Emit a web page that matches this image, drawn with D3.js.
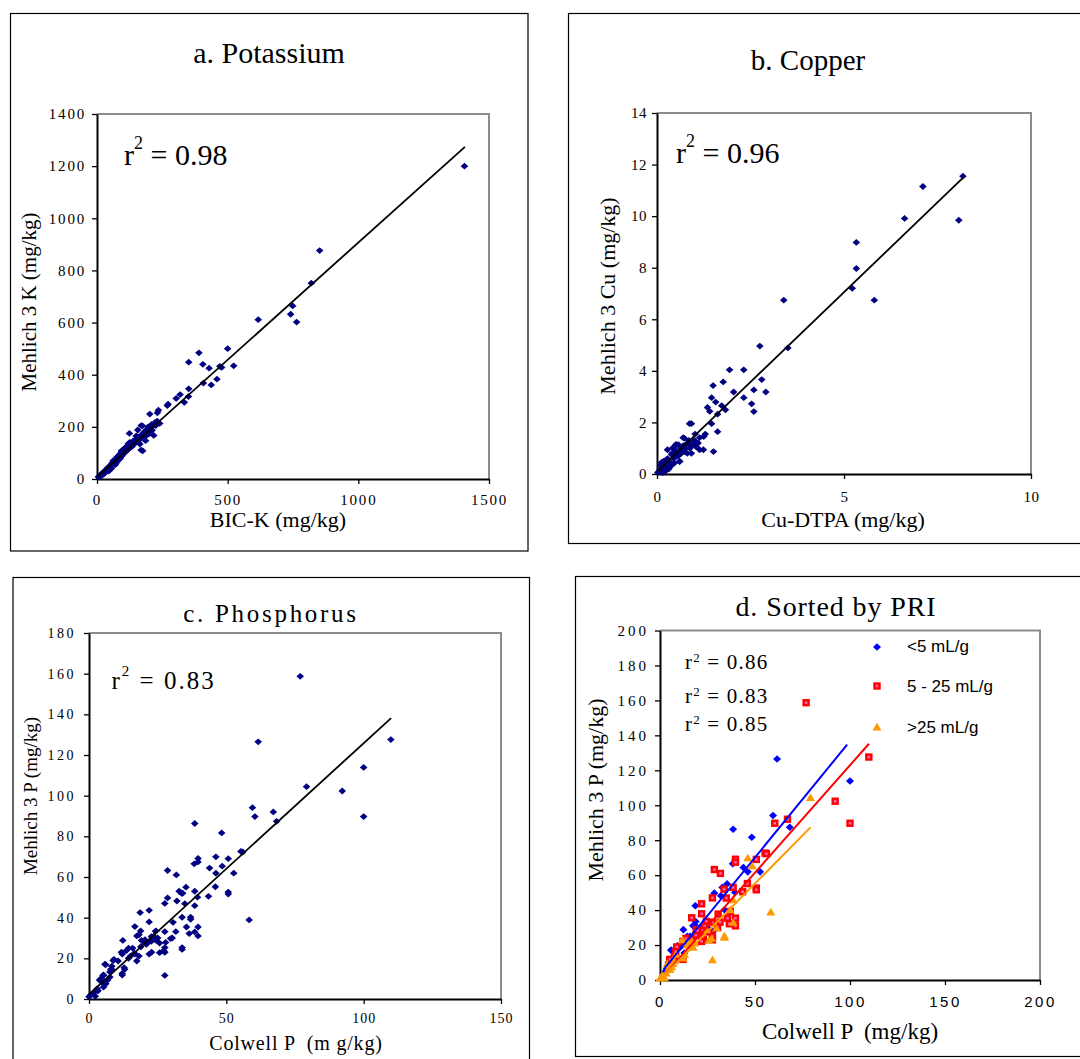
<!DOCTYPE html>
<html>
<head>
<meta charset="utf-8">
<script src="https://cdn.jsdelivr.net/npm/d3@7/dist/d3.min.js"></script>
<style>
  body { margin: 0; background: #fff; }
  text { font-family: "Liberation Serif", "Times New Roman", serif; fill: #000; }
</style>
</head>
<body>
<svg id="chart" width="1080" height="1059"></svg>
<script>
// ---- data ----
// a. Potassium: [BIC-K, Mehlich 3 K] in mg/kg
const kPoints = [
  [1406,1200],[852,876],[820,751],[749,664],[741,632],[764,602],[617,611],[500,500],[390,484],[351,448],
  [405,440],[429,425],[470,432],[477,428],[523,434],[459,383],[407,368],[437,361],[351,346],[350,316],
  [334,294],[318,324],[303,309],[272,287],[269,282],[235,264],[231,254],[202,249],[240,213],[211,187],
  [198,172],[169,205],[169,111],[124,175],[186,147],[164,134],[150,165],[209,209],[196,200],[174,204],
  [156,188],[217,167],[175,108],[154,155],[183,162],[133,124],[120,130],[107,117],[94,108],[82,85],
  [5,8],[8,10],[10,12],[12,9],[15,18],[18,14],[20,22],[22,17],[25,25],[27,20],[30,31],[32,26],[35,36],
  [36,30],[38,33],[40,42],[42,38],[44,35],[45,46],[48,44],[50,50],[52,41],[54,55],[55,48],[57,60],
  [58,52],[60,62],[62,56],[64,68],[65,58],[67,71],[68,60],[70,75],[72,66],[74,62],[75,80],[77,72],
  [78,85],[80,70],[82,88],[84,76],[85,92],[87,80],[88,95],[90,84],[92,100],[94,88],[95,105],[97,92],
  [98,110],[100,96],[102,112],[104,100],[106,118],[108,104],[110,120],[112,108],[115,125],[118,112],
  [120,135],[122,118],[125,140],[128,122],[130,138],[135,128],[138,145],[140,132],[145,150],[148,140],
  [155,145],[160,160],[165,152],[170,170],[175,165],[180,178],[185,185],[190,175],[195,190],[200,195],
  [205,185],[210,200],[220,215],[225,205],[230,222],[62,70],[70,55],[88,78],[96,98],[55,40],[45,30]
];
// b. Copper: [Cu-DTPA, Mehlich 3 Cu]
const cuPoints = [
  [8.18,11.55],[7.11,11.15],[6.62,9.91],[8.07,9.84],[5.33,8.98],[5.33,7.97],[5.22,7.2],[5.81,6.74],
  [3.39,6.74],[2.75,4.96],[3.5,4.89],[1.94,4.04],[2.32,4.04],[1.77,3.57],[1.5,3.43],[2.8,3.66],
  [2.59,3.26],[2.05,3.18],[2.91,3.18],[1.46,2.96],[2.32,2.96],[1.57,2.79],[2.53,2.72],[1.35,2.58],
  [1.41,2.43],[1.73,2.65],[1.83,2.49],[2.59,2.42],[1.62,2.32],[1.46,1.95],[1.62,1.64],[1.51,0.87],
  [0.87,1.95],[0.92,1.95],[1.29,1.55],[1.02,1.55],[1.14,1.41],[1.02,1.27],[1.24,0.94],[1.14,0.94],
  [0.7,1.41],[0.91,1.08],[0.81,0.8],[0.6,0.48],[0.28,0.94],[0.51,1.15],[0.42,1.01],[0.73,1.39],
  [0.83,1.2],[0.63,1.0],[0.48,1.08],[0.57,1.14],[0.76,1.0],[0.92,0.8],[0.61,0.49],[0.39,0.75],
  [0.3,0.55],[0.21,0.43],[0.12,0.29],[0.08,0.16],[0.21,0.1],[0.05,0.1],[0.34,0.3],[0.46,0.42],
  [0.56,0.69],[0.73,0.87],[0.66,0.9],[0.45,0.6],[0.35,0.45],[0.25,0.3],[0.15,0.2],[0.1,0.35],
  [0.18,0.5],[0.28,0.6],[0.4,0.8],[0.5,0.9],[0.55,0.75],[0.65,0.8],[0.7,1.1],[0.78,1.15],[0.85,1.3],
  [1.0,1.3],[1.1,1.2],[0.95,1.15],[0.02,0.05],[0.15,0.05],[0.25,0.15],[0.32,0.2],[0.4,0.35],
  [0.12,0.45],[0.2,0.25],[1.25,1.45],[0.88,1.0],[1.05,1.05]
];
// c/d. Phosphorus: [Colwell P, Mehlich 3 P], split by PRI class
const pLow = [ // < 5 mL/g
  [61.6,126.5],[100,113.9],[59.5,94.1],[68.3,87.4],[38.5,86.3],[48.3,81.7],[38.3,66.5],[43.9,64.4],
  [46.2,61.9],[52.7,61.9],[35.3,55],[32.8,53],[34.1,52],[39.5,50.1],[28.6,49.7],[32,48.2],[18.6,42.5],
  [33.9,40.2],[12.3,28.8],[17.4,31],[18.8,33.5],[14.4,25],[5.8,17.1],[7.9,14.5],[12.8,15.4],[27.9,27.8],
  [22.7,30.7],[18.2,31.6],[20.4,29.2],[9.1,19.5],[6.1,16.9],[4.5,10.2],[3,5.1],[2.3,3.9],[24.2,33.3],
  [21.2,27.5],[25,30],[15.9,25],[10.6,18.7]
];
const pMid = [ // 5 - 25 mL/g
  [76.9,158.7],[109.9,127.6],[92.2,102.3],[100,89.7],[67.1,92],[60.4,89.7],[55.3,72.6],[56,72.3],
  [50.7,69],[39.7,69.1],[39.7,67.4],[28.6,63.2],[31.8,61],[46,55.2],[38.5,53],[50.7,52.6],[50.7,51.6],
  [33.7,52],[43.5,50.5],[27.6,47],[34.9,46.9],[21.9,43.6],[16.7,35.6],[21.9,37.9],[30.6,37.7],[37,39.2],
  [39.7,35.4],[35.5,35.4],[36.5,32.2],[39.7,31],[31.6,33.1],[27.6,33.1],[24.4,33.5],[22.8,23],[27.6,23],
  [27.6,25.3],[8.8,18.9],[5.1,11.6],[16.5,22.5],[19.1,28.8],[20.9,26.9],[12.1,22.1],[13.6,23.8],
  [18.9,25.7],[23.5,30.8],[25.7,27.5],[12.1,11.8],[7.6,13.3],[8.3,16.1],[5.3,11.8],[19.7,28.4],
  [22.7,28.4],[30.3,30],[21.9,22.1]
];
const pHigh = [ // > 25 mL/g
  [79.2,104.4],[46.2,69.9],[48.5,65.3],[58.3,38.9],[38.5,45.9],[27.6,11.6],[33.9,24.4],[33.9,25.3],
  [37,40.2],[38.5,33],[11.8,23],[12.1,12.6],[17.4,18.7],[24.4,28.8],[29.7,29.7],[5.1,7.8],[3.3,4],
  [0.7,2.1],[0,1.1],[6.1,7.5],[5.3,5.9],[1.5,2.6],[2.3,1.3],[18.2,21.1],[15.1,21.1],[14.4,20],
  [8.3,14.6],[13,14.6],[25.7,22.8],[27.2,23.8],[6.8,9.3],[3.8,9.3],[7.6,10.8],[16.7,22.1]
];

// regression lines: [slope, intercept, xStart, xEnd]
const kFit = [0.9, 7, 0, 1408];
const cuFit = [1.394, 0.08, 0, 8.18];
const pFit = [1.235, 2.3, 0, 110];
const pLowFit = [1.332, 3.5, 1.8, 98.5];
const pMidFit = [1.229, 0, 2.5, 110];
const pHighFit = [1.1, 0.2, 0.3, 79.2];

const r2Labels = ['0.98', '0.96', '0.83'];
const r2ByPri = ['0.86', '0.83', '0.85'];
const priClasses = ['<5 mL/g', '5 - 25 mL/g', '>25 mL/g'];

const kTicksX = [0, 500, 1000, 1500];
const kTicksY = [0, 200, 400, 600, 800, 1000, 1200, 1400];
const cuTicksX = [0, 5, 10];
const cuTicksY = [0, 2, 4, 6, 8, 10, 12, 14];
const pTicksX = [0, 50, 100, 150];
const pTicksY = [0, 20, 40, 60, 80, 100, 120, 140, 160, 180];
const priTicksX = [0, 50, 100, 150, 200];
const priTicksY = [0, 20, 40, 60, 80, 100, 120, 140, 160, 180, 200];

// ---- drawing ----
const svg = d3.select('#chart');
svg.append('rect').attr('width', 1080).attr('height', 1059).attr('fill', '#fff');

const SANS = '"Liberation Sans", Arial, sans-serif';
const NAVY = '#000080';

function diamond(w, h) {
  return `M0,${-h}L${w},0L0,${h}L${-w},0Z`;
}

function drawPanel(p) {
  const g = svg.append('g');
  const [fx0, fy0, fx1, fy1] = p.frame;
  g.append('rect')
    .attr('x', fx0).attr('y', fy0)
    .attr('width', fx1 - fx0).attr('height', fy1 - fy0)
    .attr('fill', 'none').attr('stroke', '#000').attr('stroke-width', 1.2);

  const x = d3.scaleLinear().domain(p.xDomain).range([p.left, p.right]);
  const y = d3.scaleLinear().domain(p.yDomain).range([p.bottom, p.top]);

  // grey plot-area border (top and right)
  g.append('path')
    .attr('d', `M${p.left},${p.top}H${p.right}V${p.bottom}`)
    .attr('fill', 'none').attr('stroke', '#8c8c8c').attr('stroke-width', 2);

  const yAxis = d3.axisLeft(y).tickValues(p.yTicks).tickSize(5).tickSizeOuter(0)
    .tickPadding(p.yPad).tickFormat(d3.format('d'));
  const xAxis = d3.axisBottom(x).tickValues(p.xTicks).tickSize(5).tickSizeOuter(0)
    .tickPadding(p.xPad).tickFormat(d3.format('d'));

  const ya = g.append('g').attr('transform', `translate(${p.left},0)`).call(yAxis);
  const xa = g.append('g').attr('transform', `translate(0,${p.bottom})`).call(xAxis);
  [ya, xa].forEach(a => {
    a.select('.domain').attr('stroke', '#000').attr('stroke-width', 2);
    a.selectAll('.tick line').attr('stroke', '#000').attr('stroke-width', 1.3);
  });
  ya.selectAll('text')
    .style('font-family', p.yTickFont || 'inherit')
    .style('font-size', p.tickSize + 'px')
    .style('letter-spacing', (p.yTickLs || 0) + 'px')
    .attr('fill', '#000');
  xa.selectAll('text')
    .style('font-family', p.xTickFont || '"Liberation Serif", serif')
    .style('font-size', (p.xTickSize || p.tickSize) + 'px')
    .style('letter-spacing', (p.xTickLs || 0) + 'px')
    .attr('fill', '#000');
  ya.attr('font-family', null).attr('font-size', null);
  xa.attr('font-family', null).attr('font-size', null);

  // titles and axis labels
  g.append('text').attr('x', p.title.x).attr('y', p.title.y)
    .attr('text-anchor', 'middle')
    .style('font-size', p.title.size + 'px')
    .style('letter-spacing', (p.title.ls || 0) + 'px')
    .text(p.title.text);
  g.append('text').attr('x', p.xLabel.x).attr('y', p.xLabel.y)
    .attr('text-anchor', 'middle')
    .style('font-size', p.xLabel.size + 'px')
    .style('letter-spacing', (p.xLabel.ls || 0) + 'px')
    .style('white-space', 'pre')
    .text(p.xLabel.text);
  g.append('text')
    .attr('transform', `translate(${p.yLabel.x},${p.yLabel.y}) rotate(-90)`)
    .attr('text-anchor', 'middle')
    .style('font-size', p.yLabel.size + 'px')
    .text(p.yLabel.text);

  return { g, x, y };
}

function r2Text(g, x, yb, value, o) {
  const t = g.append('text').attr('x', x).attr('y', yb)
    .style('font-size', o.size + 'px')
    .style('letter-spacing', (o.ls || 0) + 'px');
  t.append('tspan').text('r');
  t.append('tspan').attr('dy', -o.raise).style('font-size', o.sup + 'px').text('2');
  t.append('tspan').attr('dy', o.raise).text((o.gap ? ' ' : '') + '= ' + value);
}

function fitLine(g, sx, sy, fit, color, width) {
  const [m, b, x0, x1] = fit;
  g.append('line')
    .attr('x1', sx(x0)).attr('y1', sy(m * x0 + b))
    .attr('x2', sx(x1)).attr('y2', sy(m * x1 + b))
    .attr('stroke', color).attr('stroke-width', width);
}

function navyDiamonds(g, sx, sy, pts) {
  g.append('g').selectAll('path').data(pts).join('path')
    .attr('d', diamond(3.8, 3.4))
    .attr('transform', d => `translate(${sx(d[0])},${sy(d[1])})`)
    .attr('fill', NAVY);
}

// a. Potassium
const pa = drawPanel({
  frame: [10.5, 13.5, 528, 551],
  left: 97, right: 489, top: 114, bottom: 479,
  xDomain: [0, 1500], yDomain: [0, 1400], xTicks: kTicksX, yTicks: kTicksY,
  yPad: 6, xPad: 10, tickSize: 15, yTickLs: 1.8, xTickLs: 1.8,
  title: { text: 'a. Potassium', x: 269, y: 63, size: 30 },
  xLabel: { text: 'BIC-K (mg/kg)', x: 278, y: 527, size: 22 },
  yLabel: { text: 'Mehlich 3 K (mg/kg)', x: 36, y: 302, size: 21 }
});
navyDiamonds(pa.g, pa.x, pa.y, kPoints);
fitLine(pa.g, pa.x, pa.y, kFit, '#000', 1.8);
r2Text(pa.g, 124, 165, r2Labels[0], { size: 30, sup: 18, raise: 16, gap: true });

// b. Copper
const pb = drawPanel({
  frame: [568.5, 13.5, 1090, 543.5],
  left: 657, right: 1031, top: 113, bottom: 474,
  xDomain: [0, 10], yDomain: [0, 14], xTicks: cuTicksX, yTicks: cuTicksY,
  yPad: 5, xPad: 12, tickSize: 15, yTickLs: 0.5, xTickLs: 0.5,
  title: { text: 'b. Copper', x: 808, y: 70, size: 29 },
  xLabel: { text: 'Cu-DTPA (mg/kg)', x: 843, y: 527, size: 22 },
  yLabel: { text: 'Mehlich 3 Cu (mg/kg)', x: 615, y: 296, size: 22 }
});
navyDiamonds(pb.g, pb.x, pb.y, cuPoints);
fitLine(pb.g, pb.x, pb.y, cuFit, '#000', 1.8);
r2Text(pb.g, 676, 163, r2Labels[1], { size: 30, sup: 18, raise: 16, gap: true });

// c. Phosphorus
const allP = pLow.concat(pMid, pHigh);
const pc = drawPanel({
  frame: [13, 577.5, 529.5, 1075],
  left: 89, right: 501, top: 633, bottom: 999,
  xDomain: [0, 150], yDomain: [0, 180], xTicks: pTicksX, yTicks: pTicksY,
  yPad: 8, xPad: 9, tickSize: 14, yTickLs: 2.5, xTickLs: 1,
  title: { text: 'c. Phosphorus', x: 271, y: 622, size: 25, ls: 2.7 },
  xLabel: { text: 'Colwell P  (m g/kg)', x: 296, y: 1050, size: 20, ls: 0.8 },
  yLabel: { text: 'Mehlich 3 P (mg/kg)', x: 36.5, y: 796, size: 19 }
});
navyDiamonds(pc.g, pc.x, pc.y, allP);
fitLine(pc.g, pc.x, pc.y, pFit, '#000', 1.8);
r2Text(pc.g, 111.5, 689, r2Labels[2], { size: 25, sup: 15, raise: 13, gap: true, ls: 2 });

// d. Sorted by PRI
const pd = drawPanel({
  frame: [575.5, 576.5, 1090, 1056.5],
  left: 660, right: 1040, top: 630.5, bottom: 980,
  xDomain: [0, 200], yDomain: [0, 200], xTicks: priTicksX, yTicks: priTicksY,
  yPad: 6, xPad: 11, tickSize: 15, yTickLs: 3,
  xTickFont: SANS, xTickSize: 15, xTickLs: 2.5,
  title: { text: 'd. Sorted by PRI', x: 836, y: 616, size: 28, ls: 0.9 },
  xLabel: { text: 'Colwell P  (mg/kg)', x: 850, y: 1039, size: 23 },
  yLabel: { text: 'Mehlich 3 P (mg/kg)', x: 603, y: 790, size: 22 }
});

const BLUE = '#0000ff', RED = '#ff0000', ORANGE = '#ff9900', PINK = '#ff5fb4';
function blueMark(sel) {
  sel.append('path').attr('d', diamond(4, 3.8)).attr('fill', BLUE);
}
function redMark(sel) {
  sel.append('rect').attr('x', -3.7).attr('y', -3.7).attr('width', 7.4).attr('height', 7.4).attr('fill', RED);
  sel.append('rect').attr('x', -1.3).attr('y', -1.3).attr('width', 2.6).attr('height', 2.6).attr('fill', PINK);
}
function orangeMark(sel) {
  sel.append('path').attr('d', 'M0,-4.2L4.5,3.4L-4.5,3.4Z').attr('fill', ORANGE);
}

const groups = [
  { pts: pLow, mark: blueMark, fit: pLowFit, color: BLUE },
  { pts: pMid, mark: redMark, fit: pMidFit, color: RED },
  { pts: pHigh, mark: orangeMark, fit: pHighFit, color: ORANGE }
];
groups.forEach(grp => {
  pd.g.append('g').selectAll('g').data(grp.pts).join('g')
    .attr('transform', d => `translate(${pd.x(d[0])},${pd.y(d[1])})`)
    .each(function () { grp.mark(d3.select(this)); });
});
groups.forEach(grp => fitLine(pd.g, pd.x, pd.y, grp.fit, grp.color, 2));

const r2Base = [669, 703, 731];
r2ByPri.forEach((v, i) => {
  r2Text(pd.g, 685, r2Base[i], v, { size: 21, sup: 13, raise: 7, gap: true, ls: 1.2 });
});

// legend
const legY = [647, 686, 727];
const legBase = [652, 692, 733];
groups.forEach((grp, i) => {
  const m = pd.g.append('g').attr('transform', `translate(877,${legY[i]})`);
  grp.mark(m);
  pd.g.append('text').attr('x', 907).attr('y', legBase[i])
    .style('font-family', SANS).style('font-size', '17px')
    .text(priClasses[i]);
});
</script>
</body>
</html>
